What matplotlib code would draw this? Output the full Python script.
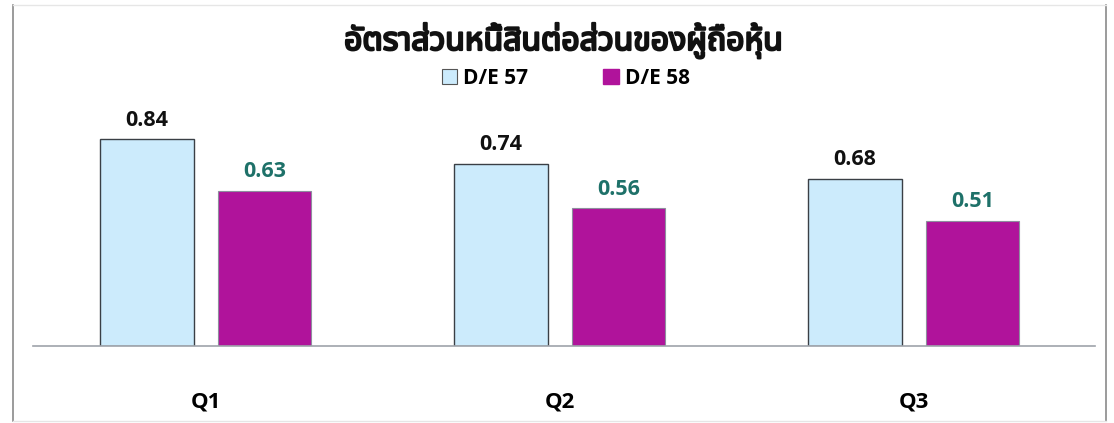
import matplotlib
matplotlib.use("Agg")
import matplotlib.pyplot as plt
from matplotlib import font_manager
from matplotlib.ft2font import FT2Font
from matplotlib.patches import Rectangle
from matplotlib.lines import Line2D
import matplotlib.patheffects as pe
import numpy as np

categories = ["Q1", "Q2", "Q3"]
de57 = [0.84, 0.74, 0.68]
de58 = [0.63, 0.56, 0.51]
series_names = ["D/E 57", "D/E 58"]
title = "อัตราส่วนหนี้สินต่อส่วนของผู้ถือหุ้น"

# find a font with Thai glyphs
thai_font = None
found = []
for f in font_manager.fontManager.ttflist:
    try:
        cm = FT2Font(f.fname).get_charmap()
        if 0x0E2D in cm and 0x0E31 in cm:
            found.append(f.name)
    except Exception:
        pass
pref = ["Noto Sans Thai", "Noto Sans Thai UI", "Loma", "Garuda", "Tlwg Typo", "Kinnari", "Norasi"]
for p in pref:
    if p in found:
        thai_font = p
        break
if thai_font is None and found:
    thai_font = found[0]
fam = [thai_font, "DejaVu Sans"] if thai_font else ["DejaVu Sans"]

W, H = 1114, 423
dpi = 100
fig = plt.figure(figsize=(W / dpi, H / dpi), dpi=dpi)
fig.patch.set_facecolor("white")

ax_left = 33 / W
ax_w = (1095 - 33) / W
base_y = 346
top_y = 100
ax_bottom = (H - base_y) / H
ax_h = (base_y - top_y) / H
ax = fig.add_axes([ax_left, ax_bottom, ax_w, ax_h])
ymax = (base_y - top_y) / 246.0
ax.set_xlim(-0.488, 2.512)
ax.set_ylim(0, ymax)

x = np.arange(len(categories))
bw = 0.263
off = 0.166
c57 = "#CCEBFC"
c58 = "#B0139B"
ax.bar(x - off, de57, bw, color=c57, edgecolor="#3A3F45", linewidth=1.0)
ax.bar(x + off, de58, bw, color=c58, edgecolor="#8E8E9E", linewidth=0.8)

lab_fam = ["Open Sans", "DejaVu Sans"]
for xi, v in zip(x, de57):
    ax.text(xi - off, v + 0.035, f"{v:.2f}", ha="center", va="bottom",
            fontsize=15.5, fontweight="bold", color="#111111", family=lab_fam)
for xi, v in zip(x, de58):
    ax.text(xi + off, v + 0.035, f"{v:.2f}", ha="center", va="bottom",
            fontsize=15.5, fontweight="bold", color="#1E7169", family=lab_fam)

for s in ["top", "right", "left"]:
    ax.spines[s].set_visible(False)
ax.spines["bottom"].set_color("#9EA3AA")
ax.spines["bottom"].set_linewidth(1.2)
ax.set_yticks([])
ax.set_xticks(x)
ax.set_xticklabels(categories, fontsize=16, fontweight="bold", family=lab_fam)
ax.tick_params(axis="x", length=0, pad=33)
ax.patch.set_alpha(0)

fig.text(0.506, 1 - 41 / H, title, ha="center", va="center", fontsize=23,
         fontweight="bold", family=fam, color="#111111",
         path_effects=[pe.withStroke(linewidth=1.6, foreground="#111111")])

handles = [Rectangle((0, 0), 1, 1, facecolor=c57, edgecolor="#555555", linewidth=0.8),
           Rectangle((0, 0), 1, 1, facecolor=c58, edgecolor=c58)]
fig.legend(handles, series_names, loc="center", bbox_to_anchor=(0.508, 1 - 78 / H),
           ncol=2, frameon=False, handlelength=0.75, handleheight=0.75, handletextpad=0.3,
           columnspacing=3.6, prop={"family": lab_fam, "weight": "bold", "size": 15})

# outer border
fig.add_artist(Line2D([13 / W, 13 / W], [1 - 5 / H, 1 - 421 / H], color="#8A8A8A", lw=1.2, transform=fig.transFigure))
fig.add_artist(Line2D([1106 / W, 1106 / W], [1 - 5 / H, 1 - 421 / H], color="#8A8A8A", lw=1.2, transform=fig.transFigure))
fig.add_artist(Line2D([13 / W, 1106 / W], [1 - 5 / H, 1 - 5 / H], color="#E6E6E6", lw=1.0, transform=fig.transFigure))
fig.add_artist(Line2D([13 / W, 1106 / W], [1 - 421 / H, 1 - 421 / H], color="#E6E6E6", lw=1.0, transform=fig.transFigure))

fig.savefig("out.png", dpi=dpi, facecolor="white")
